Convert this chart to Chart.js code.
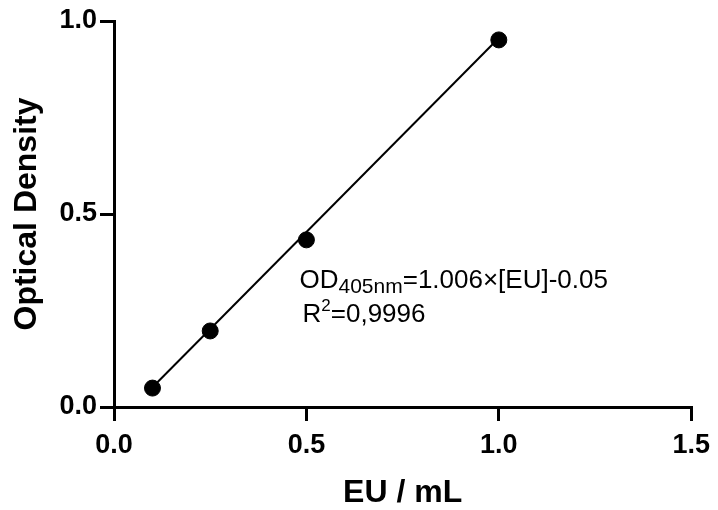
<!DOCTYPE html>
<html>
<head>
<meta charset="utf-8">
<script src="https://cdn.jsdelivr.net/npm/chart.js@4"></script>
<style>
  html, body { margin: 0; padding: 0; background: #ffffff; }
  canvas { display: block; }
</style>
</head>
<body>
<canvas id="c" width="718" height="510"></canvas>
<script>
// ---- data ----
const concentrations = [0.1, 0.25, 0.5, 1.0];          // EU / mL
const opticalDensity = [0.049, 0.197, 0.433, 0.951];    // OD
const fitX = [0.1, 1.0];                                // regression line ends
const fitY = [0.051, 0.956];
const xTickValues = [0, 0.5, 1.0, 1.5];
const xTickLabels = ['0.0', '0.5', '1.0', '1.5'];
const yTickValues = [0, 0.5, 1.0];
const yTickLabels = ['0.0', '0.5', '1.0'];
const xTitle = 'EU / mL';
const yTitle = 'Optical Density';
const eqMain = 'OD';
const eqSub = '405nm';
const eqRest = '=1.006×[EU]-0.05';
const r2Main = 'R';
const r2Sup = '2';
const r2Rest = '=0,9996';

const FONT = "'Liberation Sans', Arial, sans-serif";

const annotationPlugin = {
  id: 'equation',
  afterDatasetsDraw(chart) {
    const ctx = chart.ctx;
    const xs = chart.scales.x, ys = chart.scales.y;
    ctx.save();
    ctx.fillStyle = '#000';
    ctx.textBaseline = 'alphabetic';
    ctx.textAlign = 'left';
    // line 1
    let x = xs.getPixelForValue(0.482);
    let y = ys.getPixelForValue(0.308);
    ctx.font = "26px " + FONT;
    ctx.fillText(eqMain, x, y);
    x += ctx.measureText(eqMain).width;
    ctx.font = "21px " + FONT;
    ctx.fillText(eqSub, x, y + 5);
    x += ctx.measureText(eqSub).width;
    ctx.font = "26px " + FONT;
    ctx.fillText(eqRest, x, y);
    // line 2
    x = xs.getPixelForValue(0.49);
    y = ys.getPixelForValue(0.22);
    ctx.font = "26px " + FONT;
    ctx.fillText(r2Main, x, y);
    x += ctx.measureText(r2Main).width;
    ctx.font = "17px " + FONT;
    ctx.fillText(r2Sup, x, y - 11);
    x += ctx.measureText(r2Sup).width;
    ctx.font = "26px " + FONT;
    ctx.fillText(r2Rest, x, y);
    ctx.restore();
  }
};

new Chart(document.getElementById('c'), {
  type: 'scatter',
  data: {
    datasets: [
      {
        type: 'line',
        data: fitX.map((v, i) => ({ x: v, y: fitY[i] })),
        borderColor: '#000',
        borderWidth: 2,
        pointRadius: 0,
        fill: false,
        showLine: true,
        order: 2
      },
      {
        data: concentrations.map((v, i) => ({ x: v, y: opticalDensity[i] })),
        backgroundColor: '#000',
        borderColor: '#000',
        pointRadius: 8,
        pointHoverRadius: 8,
        order: 1
      }
    ]
  },
  options: {
    responsive: false,
    animation: false,
    events: [],
    layout: { padding: { top: 21, right: 25, left: 0, bottom: 0 } },
    plugins: { legend: { display: false }, tooltip: { enabled: false } },
    scales: {
      x: {
        type: 'linear',
        min: 0, max: 1.5,
        afterBuildTicks: s => { s.ticks = xTickValues.map(v => ({ value: v })); },
        afterFit: s => { s.height = 103; },
        ticks: {
          color: '#000',
          padding: 8,
          maxRotation: 0,
          font: { family: FONT, size: 27, weight: 'bold' },
          callback: (v, i) => xTickLabels[i]
        },
        grid: { display: true, drawOnChartArea: false, drawTicks: true, tickLength: 14, color: '#000', lineWidth: 3 },
        border: { display: true, color: '#000', width: 3 },
        title: {
          display: true, text: xTitle, color: '#000',
          font: { family: FONT, size: 32, weight: 'bold', lineHeight: 1 },
          padding: { top: 0, bottom: 1 }
        }
      },
      y: {
        type: 'linear',
        min: 0, max: 1.0,
        afterBuildTicks: s => { s.ticks = yTickValues.map(v => ({ value: v })); },
        afterFit: s => { s.width = 114; },
        ticks: {
          color: '#000',
          padding: 3,
          font: { family: FONT, size: 27, weight: 'bold' },
          callback: (v, i) => yTickLabels[i]
        },
        grid: { display: true, drawOnChartArea: false, drawTicks: true, tickLength: 14, color: '#000', lineWidth: 3 },
        border: { display: true, color: '#000', width: 3 },
        title: {
          display: true, text: yTitle, color: '#000',
          font: { family: FONT, size: 32, weight: 'bold', lineHeight: 1 },
          padding: { top: 11, bottom: 0 }
        }
      }
    }
  },
  plugins: [annotationPlugin]
});
</script>
</body>
</html>
